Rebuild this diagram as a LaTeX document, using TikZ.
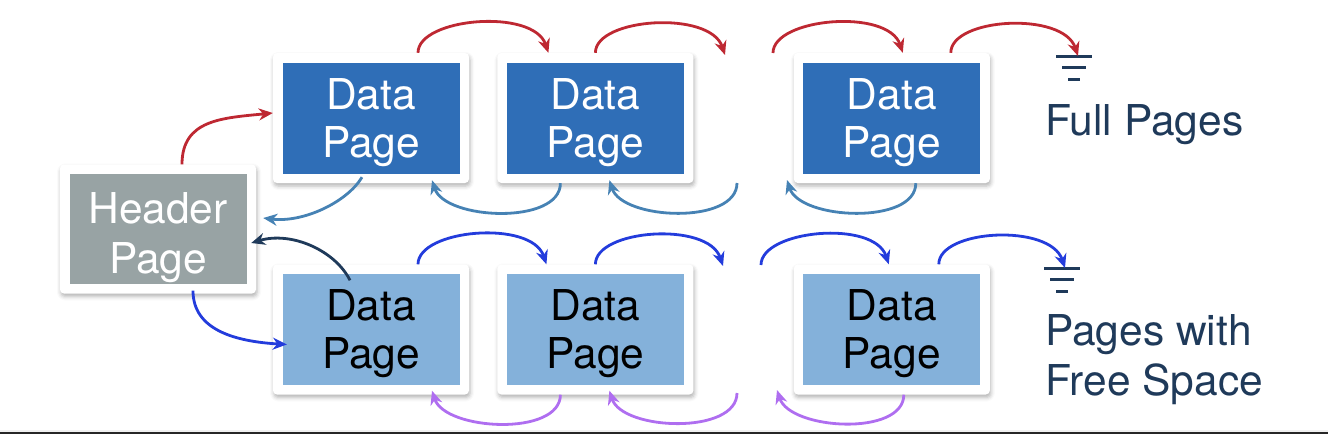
\documentclass[tikz,border=0pt]{standalone}
\usepackage{fontspec}
\setmainfont{TeX Gyre Heros}
\usetikzlibrary{positioning,arrows.meta,shadows.blur}
\definecolor{fullblue}{RGB}{47,110,183}
\definecolor{freeblue}{RGB}{132,177,218}
\definecolor{hdrgray}{RGB}{152,163,164}
\definecolor{navy}{RGB}{31,58,90}
\definecolor{nextred}{RGB}{190,40,50}
\definecolor{backsteel}{RGB}{70,130,180}
\definecolor{nextblue}{RGB}{35,60,220}
\definecolor{backpurple}{RGB}{175,110,240}

\begin{document}
\begin{tikzpicture}[x=1pt, y=-1pt,
    page/.style = {minimum width=196pt, minimum height=130pt, inner sep=0pt,
      fill=white, rounded corners=4pt, align=center, text depth=0pt,
      font=\fontsize{42.5}{48}\selectfont,
      blur shadow={shadow xshift=1pt, shadow yshift=-3pt,
        shadow blur radius=4pt, shadow opacity=30},
      path picture={\fill[#1, sharp corners]
        ([shift={(9.5pt,9.5pt)}]path picture bounding box.south west) rectangle
        ([shift={(-9.5pt,-9.5pt)}]path picture bounding box.north east);}},
    fullpg/.style = {page=fullblue, text=white},
    freepg/.style = {page=freeblue, text=black},
    hdrpg/.style = {page=hdrgray, text=white, minimum height=129pt,
      font=\fontsize{42.5}{50}\selectfont, text height=88pt},
    lbl/.style = {inner sep=0pt, text=navy, font=\fontsize{42.5}{50}\selectfont},
    link/.style = {line width=2.8pt, -{Stealth[length=14pt, width=12pt, inset=4.5pt]}},
    fwd/.style = {to path={.. controls +(0,-35) and +(-15,-45) .. (\tikztotarget)}},
    bwd/.style = {to path={.. controls +(0,42) and +(13,40) .. (\tikztotarget)}},
    gnd/.style = {navy, line width=3pt}]
  \useasboundingbox (0,0) rectangle (1328,434);

  \node[hdrpg] (h) at (158,229) {Header\\Page};

  \node[fullpg] (d1) at (371,118) {Data\\Page};
  \node[fullpg, right=28pt of d1] (d2) {Data\\Page};
  \node[fullpg, right=100pt of d2] (d3) {Data\\Page};

  \node[freepg] (f1) at (371,329.5) {Data\\Page};
  \node[freepg, right=28pt of f1] (f2) {Data\\Page};
  \node[freepg, right=100pt of f2] (f3) {Data\\Page};

  \coordinate (g1) at (1074,56);
  \coordinate (g2) at (1062,268);
  \foreach \g in {g1,g2}
    \draw[gnd] ([xshift=-18pt]\g) -- ([xshift=18pt]\g)
      ([xshift=-12pt,yshift=-11.5pt]\g) -- ([xshift=12pt,yshift=-11.5pt]\g)
      ([xshift=-6pt,yshift=-23pt]\g) -- ([xshift=6pt,yshift=-23pt]\g);

  \node[lbl, anchor=base west] (full) at (1045,135) {Full Pages};
  \node[lbl, anchor=base west, align=left] (free) at (1045,395) {Pages with\\Free Space};

  \coordinate (tgapin) at (725,55);
  \coordinate (tgapout) at (773,53);
  \coordinate (bgapin) at (723,266);
  \coordinate (bgapout) at (761,265);
  \coordinate (tbackout) at (737,183);
  \coordinate (tbackin) at (787,180);
  \coordinate (bbackout) at (737,393);
  \coordinate (bbackin) at (777,390);

  \draw[link, nextred] ([xshift=24pt]h.north) .. controls +(0,-45) and +(-50,5) .. ([yshift=5pt]d1.west);
  \draw[link, nextblue] ([xshift=35pt,yshift=3pt]h.south) .. controls +(0,40) and +(-50,-3) .. ([xshift=14pt,yshift=-15pt]f1.west);
  \draw[link, backsteel] ([xshift=-9pt,yshift=6pt]d1.south) .. controls +(-15,25) and +(40,5) .. ([xshift=7pt,yshift=11pt]h.east);
  \draw[link, navy] ([xshift=-21pt,yshift=-16pt]f1.north) .. controls +(-15,-30) and +(40,-12) .. ([xshift=-5pt,yshift=-14pt]h.east);

  \draw[link, nextred] ([xshift=47pt]d1.north) to[fwd] ([xshift=-47pt]d2.north);
  \draw[link, nextred] (d2.north) to[fwd] (tgapin);
  \draw[link, nextred] (tgapout) to[fwd] ([xshift=11pt]d3.north);
  \draw[link, nextred] ([xshift=59pt]d3.north) to[fwd] ([xshift=4pt]g1);

  \draw[link, nextblue] ([xshift=47pt]f1.north) to[fwd] ([xshift=-49pt]f2.north);
  \draw[link, nextblue] (f2.north) to[fwd] (bgapin);
  \draw[link, nextblue] (bgapout) to[fwd] ([xshift=-3pt]f3.north);
  \draw[link, nextblue] ([xshift=47pt]f3.north) to[fwd] ([xshift=3pt]g2);

  \draw[link, backsteel] ([xshift=-35pt]d2.south) to[bwd] ([xshift=61pt,yshift=3pt]d1.south);
  \draw[link, backsteel] (tbackout) to[bwd] ([xshift=14pt,yshift=3pt]d2.south);
  \draw[link, backsteel] ([xshift=24pt]d3.south) to[bwd] (tbackin);

  \draw[link, backpurple] ([xshift=-35pt]f2.south) to[bwd] ([xshift=61pt,yshift=4pt]f1.south);
  \draw[link, backpurple] (bbackout) to[bwd] ([xshift=14pt,yshift=4pt]f2.south);
  \draw[link, backpurple] ([xshift=12pt]f3.south) to[bwd] (bbackin);

  \fill[black!6] (0,430) rectangle (1328,432);
  \fill[black!85] (0,432) rectangle (1328,434);
\end{tikzpicture}
\end{document}
